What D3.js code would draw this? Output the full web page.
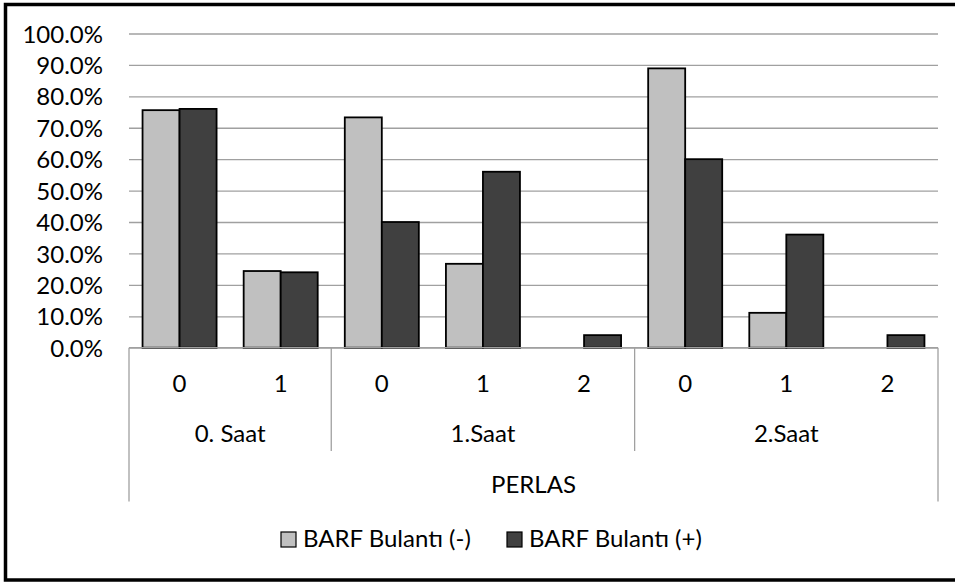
<!DOCTYPE html>
<html>
<head>
<meta charset="utf-8">
<script src="https://cdn.jsdelivr.net/npm/d3@7"></script>
<style>
  html, body { margin: 0; padding: 0; background: #fff; overflow: hidden; }
  svg { display: block; }
  text { font-family: Lato, "Open Sans", sans-serif; fill: #000; }
</style>
</head>
<body>
<svg id="chart" width="955" height="584"></svg>
<script>
// ---- data ----
const groups = ["0. Saat", "1.Saat", "2.Saat"];
const groupSizes = [2, 3, 3];
const subCategories = ["0", "1", "0", "1", "2", "0", "1", "2"];
const seriesNames = ["BARF Bulantı (-)", "BARF Bulantı (+)"];
const negValues = [75.6, 24.4, 73.3, 26.7, 0, 88.9, 11.1, 0];
const posValues = [76.0, 24.0, 40.0, 56.0, 4.0, 60.0, 36.0, 4.0];
const yTicks = [0, 10, 20, 30, 40, 50, 60, 70, 80, 90, 100];
const axisTitle = "PERLAS";
const seriesColors = ["#c0c0c0", "#404040"];

// ---- layout ----
const svg = d3.select("#chart");
const plot = { left: 129, right: 938, top: 33.5, bottom: 347.7 };
const fontSize = 24;

// outer border
svg.append("rect")
  .attr("x", 5.5).attr("y", 4.5)
  .attr("width", 965).attr("height", 575.5)
  .attr("fill", "none").attr("stroke", "#000").attr("stroke-width", 3.5);

const slots = subCategories.map((d, i) => i);
const x0 = d3.scaleBand().domain(slots).range([plot.left, plot.right]).padding(0);
const x1 = d3.scaleBand().domain([0, 1]).range([0, x0.bandwidth()]).paddingInner(0).paddingOuter(0.366);
const y = d3.scaleLinear().domain([0, 100]).range([plot.bottom, plot.top]);

// gridlines + y labels via axis
const yAxis = d3.axisLeft(y)
  .tickValues(yTicks)
  .tickSize(-(plot.right - plot.left))
  .tickPadding(26)
  .tickFormat(d => d.toFixed(1) + "%");
const gy = svg.append("g").attr("transform", `translate(${plot.left},0)`).call(yAxis);
gy.select(".domain").remove();
gy.selectAll(".tick line").attr("stroke", "#a0a0a0").attr("stroke-width", 1.3);
gy.selectAll(".tick text")
  .attr("font-size", fontSize)
  .attr("font-family", "Lato, 'Open Sans', sans-serif")
  .attr("fill", "#000")
  .attr("dy", "0.36em");

// bars
const barData = [];
subCategories.forEach((c, i) => {
  [negValues[i], posValues[i]].forEach((v, s) => {
    if (v > 0) barData.push({ slot: i, s, v });
  });
});
svg.append("g").selectAll("rect").data(barData).join("rect")
  .attr("x", d => x0(d.slot) + x1(d.s))
  .attr("y", d => y(d.v))
  .attr("width", x1.bandwidth())
  .attr("height", d => y(0) - y(d.v))
  .attr("fill", d => seriesColors[d.s])
  .attr("stroke", "#000")
  .attr("stroke-width", 1.8);

// category axis line and separators
const axisG = svg.append("g").attr("stroke", "#a0a0a0").attr("stroke-width", 1.3);
axisG.append("line")
  .attr("x1", plot.left).attr("x2", plot.right)
  .attr("y1", y(0)).attr("y2", y(0));
let acc = 0;
const boundaries = [0];
groupSizes.forEach(n => { acc += n; boundaries.push(acc); });
boundaries.forEach((b, i) => {
  const xx = b < slots.length ? x0(b) : plot.right;
  const outer = (i === 0 || i === boundaries.length - 1);
  axisG.append("line")
    .attr("x1", xx).attr("x2", xx)
    .attr("y1", y(0)).attr("y2", outer ? 501.5 : 451);
});

// sub-category labels
svg.append("g").selectAll("text").data(subCategories).join("text")
  .attr("x", (d, i) => x0(i) + x0.bandwidth() / 2)
  .attr("y", 391.5)
  .attr("text-anchor", "middle")
  .attr("font-size", fontSize)
  .text(d => d);

// group labels
svg.append("g").selectAll("text").data(groups).join("text")
  .attr("x", (d, i) => {
    const a = boundaries[i], b = boundaries[i + 1];
    const xa = x0(a), xb = b < slots.length ? x0(b) : plot.right;
    return (xa + xb) / 2;
  })
  .attr("y", 442)
  .attr("text-anchor", "middle")
  .attr("font-size", fontSize)
  .text(d => d);

// axis title
svg.append("text")
  .attr("x", (plot.left + plot.right) / 2)
  .attr("y", 493)
  .attr("text-anchor", "middle")
  .attr("font-size", fontSize)
  .text(axisTitle);

// legend
const legendX = [281, 507];
const legend = svg.append("g").selectAll("g").data(seriesNames).join("g")
  .attr("transform", (d, i) => `translate(${legendX[i]},532)`);
legend.append("rect")
  .attr("width", 15).attr("height", 15)
  .attr("fill", (d, i) => seriesColors[i])
  .attr("stroke", "#000").attr("stroke-width", 1.2);
legend.append("text")
  .attr("x", 22).attr("y", 15)
  .attr("font-size", fontSize)
  .text(d => d);
</script>
</body>
</html>
